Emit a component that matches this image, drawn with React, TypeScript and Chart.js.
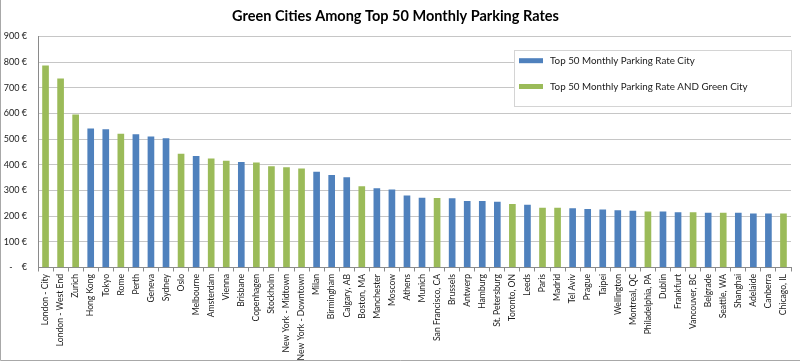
import React, { useEffect, useRef } from "react";
import { Chart, registerables } from "chart.js";

Chart.register(...registerables);

const TITLE = "Green Cities Among Top 50 Monthly Parking Rates";
const SERIES_BLUE = "Top 50 Monthly Parking Rate City";
const SERIES_GREEN = "Top 50 Monthly Parking Rate AND Green City";

const cities = [
  "London - City", "London - West End", "Zurich", "Hong Kong", "Tokyo", "Rome", "Perth", "Geneva", "Sydney", "Oslo",
  "Melbourne", "Amsterdam", "Vienna", "Brisbane", "Copenhagen", "Stockholm", "New York - Midtown", "New York - Downtown", "Milan", "Birmingham",
  "Calgary, AB", "Boston, MA", "Manchester", "Moscow", "Athens", "Munich", "San Francisco, CA", "Brussels", "Antwerp", "Hamburg",
  "St. Petersburg", "Toronto, ON", "Leeds", "Paris", "Madrid", "Tel Aviv", "Prague", "Taipei", "Wellington", "Montreal, QC",
  "Philadelphia, PA", "Dublin", "Frankfurt", "Vancouver, BC", "Belgrade", "Seattle, WA", "Shanghai", "Adelaide", "Canberra", "Chicago, IL",
];

const rates = [
  785, 735, 595, 540, 537, 520, 518, 509, 502, 442,
  433, 423, 414, 410, 408, 393, 389, 384, 372, 359,
  350, 315, 307, 302, 279, 270, 269, 268, 258, 258,
  255, 246, 243, 231, 231, 229, 227, 225, 222, 220,
  217, 217, 214, 214, 212, 212, 212, 209, 209, 209,
];

const isGreen = [
  true, true, true, false, false, true, false, false, false, true,
  false, true, true, false, true, true, true, true, false, false,
  false, true, false, false, false, false, true, false, false, false,
  false, true, false, true, true, false, false, false, false, false,
  true, false, false, true, false, true, false, false, false, true,
];

const yTickValues = [0, 100, 200, 300, 400, 500, 600, 700, 800, 900];

const BLUE = "#4F81BD";
const GREEN = "#9BBB59";
const FONT = "Lato, 'Open Sans', sans-serif";

const W = 800;
const H = 362;

const legendAndBorder = {
  id: "legendAndBorder",
  afterDraw(chart: any) {
    const ctx = chart.ctx;
    ctx.save();
    ctx.fillStyle = "#ffffff";
    ctx.fillRect(514.5, 50.5, 277, 56);
    ctx.strokeStyle = "#d4d4d4";
    ctx.lineWidth = 1;
    ctx.strokeRect(514.5, 50.5, 277, 56);
    chart.data.datasets.forEach((ds: any, i: number) => {
      const cy = 60.7 + i * 25.8;
      ctx.fillStyle = ds.backgroundColor;
      ctx.fillRect(519, cy - 2.5, 24, 5);
      ctx.fillStyle = "#1a1a1a";
      ctx.font = `9.8px ${FONT}`;
      ctx.textBaseline = "middle";
      ctx.textAlign = "left";
      ctx.fillText(ds.label, 550, cy);
    });
    // outer chart frame (visible on left and bottom only)
    ctx.strokeStyle = "#a8a8a8";
    ctx.beginPath();
    ctx.moveTo(0.5, 0);
    ctx.lineTo(0.5, H - 1.5);
    ctx.lineTo(W, H - 1.5);
    ctx.stroke();
    ctx.restore();
  },
};

export default function App() {
  const ref = useRef<HTMLCanvasElement | null>(null);

  useEffect(() => {
    document.body.style.margin = "0";
    const canvas = ref.current!;
    const blueData = rates.map((v, i) => (isGreen[i] ? null : v));
    const greenData = rates.map((v, i) => (isGreen[i] ? v : null));

    const chart = new Chart(canvas, {
      type: "bar",
      data: {
        labels: cities,
        datasets: [
          { label: SERIES_BLUE, data: blueData, backgroundColor: BLUE, barThickness: 6 },
          { label: SERIES_GREEN, data: greenData, backgroundColor: GREEN, barThickness: 6 },
        ],
      },
      plugins: [legendAndBorder],
      options: {
        animation: false,
        responsive: false,
        maintainAspectRatio: false,
        layout: { padding: { left: 0, right: 9, top: 0, bottom: 0 } },
        plugins: {
          legend: { display: false },
          tooltip: { enabled: false },
          title: {
            display: true,
            text: TITLE,
            color: "#000000",
            font: { family: FONT, size: 14.5, weight: "bold" },
            padding: { top: 8, bottom: 11 },
          },
        },
        scales: {
          x: {
            stacked: true,
            grid: {
              offset: true,
              drawOnChartArea: false,
              drawTicks: true,
              tickLength: 4,
              color: "#8a8a8a",
            },
            border: { color: "#8a8a8a" },
            ticks: {
              autoSkip: false,
              minRotation: 90,
              maxRotation: 90,
              padding: 2.5,
              color: "#1a1a1a",
              font: { family: FONT, size: 8.6 },
            },
            afterFit: (s: any) => {
              s.height = H - 267.5;
            },
          },
          y: {
            stacked: true,
            min: 0,
            max: 900,
            afterBuildTicks: (s: any) => {
              s.ticks = yTickValues.map((v) => ({ value: v }));
            },
            grid: { color: "#c6c6c6", drawTicks: false },
            border: { color: "#8a8a8a" },
            ticks: {
              padding: 11,
              color: "#1a1a1a",
              font: { family: FONT, size: 9 },
              callback: (v: any) => (Number(v) === 0 ? "-    €" : `${v} €`),
            },
            afterFit: (s: any) => {
              s.width = 38;
            },
          },
        },
      },
    });
    return () => chart.destroy();
  }, []);

  return (
    <div style={{ position: "fixed", left: 0, top: 0, width: W, height: H }}>
      <canvas ref={ref} width={W} height={H} style={{ width: W, height: H, display: "block" }} />
    </div>
  );
}
